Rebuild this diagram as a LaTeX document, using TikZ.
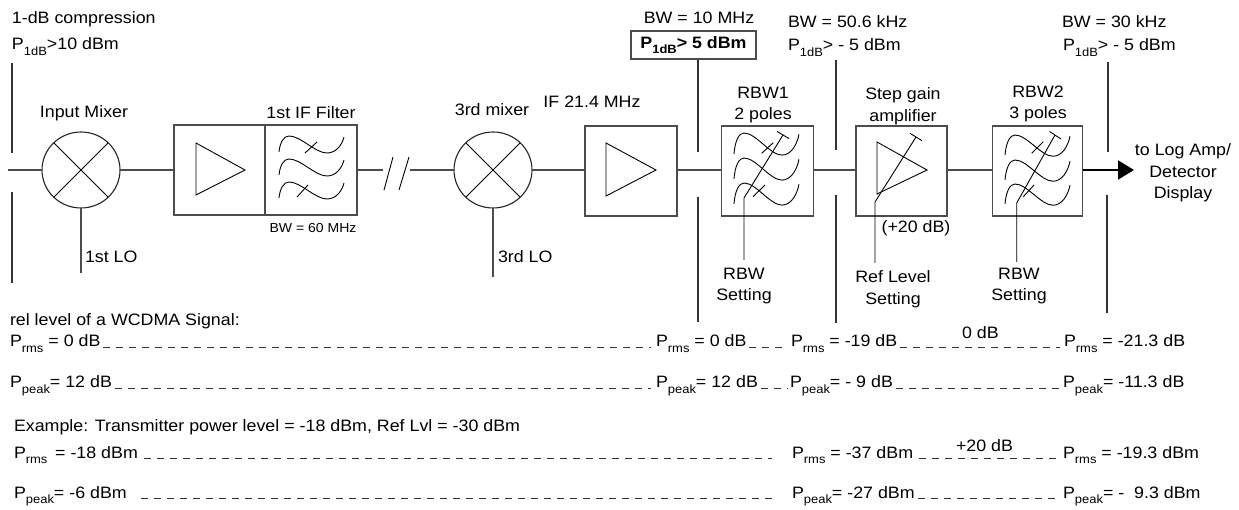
\documentclass[tikz,border=0pt]{standalone}
\usepackage{fontspec}
\setmainfont[FakeStretch=1.08]{Liberation Sans}
\usetikzlibrary{shapes.geometric,arrows.meta}
\newcommand\fs{\fontsize{16.5}{21.5}\selectfont}
\newcommand\fsm{\fontsize{13}{15}\selectfont}
\newcommand\Pix[1]{P\raisebox{-0.35em}{\fontsize{12}{12}\selectfont #1}}
\tikzset{wave/.pic={\draw[line width=0.9pt] (0,16) .. controls (1,6) and (5,0) .. (10,0) .. controls (22,0) and (36,17) .. (48,17) .. controls (57,17) and (63,9) .. (65,1);}}
\begin{document}
\begin{tikzpicture}[x=1pt,y=-1pt,
  every node/.style={inner sep=0pt, outer sep=0pt, font=\fs},
  wire/.style={draw=black!70, line width=1.2pt},
  blk/.style={draw=black!70, line width=1.2pt, rectangle, minimum height=90pt},
  mixer/.style={draw=black!85, line width=1.1pt, ellipse, minimum width=78pt, minimum height=76pt},
  sym/.style={draw=black, line width=0.9pt},
  marker/.style={draw=black!80, line width=1.1pt},
  dashrow/.style={draw=black!80, line width=0.8pt, dash pattern=on 7pt off 6pt},
  lbl/.style={align=center}]
\useasboundingbox (0,0) rectangle (1239,510);

% ---- blocks ----
\node[mixer] (mA) at (81,170) {};
\node[blk, minimum width=91pt] (ampA) at (219.5,170) {};
\node[blk, minimum width=92pt] (filtA) at (311,170) {};
\node[mixer] (mB) at (493,170) {};
\node[blk, minimum width=92pt] (ampB) at (631,171) {};
\node[blk, minimum width=91.5pt] (rbwA) at (767.5,171) {};
\node[blk, minimum width=91pt] (stp) at (901.5,171) {};
\node[blk, minimum width=90pt] (rbwB) at (1037.5,171) {};

% mixer crosses
\draw[sym] (mA.45) -- (mA.225) (mA.135) -- (mA.-45);
\draw[sym] (mB.45) -- (mB.225) (mB.135) -- (mB.-45);

% amplifier triangles
\draw[sym] (196,143) -- (196,195) -- (245,170) -- cycle;
\draw[sym] (606,143) -- (606,196) -- (656,170) -- cycle;
\draw[sym] (877,142) -- (877,194) -- (927,170) -- cycle;

% filter waves
\pic at (279,136) {wave};
\pic at (279,159) {wave};
\pic at (279,182) {wave};
\draw[sym] (305,153) -- (317,142);
\draw[sym] (297,197) -- (308,185);

\pic[yscale=1.3] at (734,133) {wave};
\pic[yscale=1.3] at (734,158) {wave};
\pic[yscale=1.3] at (734,183) {wave};
\draw[sym] (761.7,153.3) -- (773.3,142.7);
\draw[sym] (753,196.7) -- (765,185);

\pic[yscale=1.25] at (1005,135) {wave};
\pic[yscale=1.25] at (1005,160) {wave};
\pic[yscale=1.25] at (1005,184) {wave};
\draw[sym] (1031.7,153.3) -- (1043.3,141.7);
\draw[sym] (1023.3,196.7) -- (1034,185);

% ---- coordinates ----
\coordinate (inL) at (8,170);
\coordinate (brkA) at (383,170);
\coordinate (brkB) at (410,170);
\coordinate (tip) at (1134,170);
\coordinate (loA) at (81,273);
\coordinate (loB) at (493,277);

% ---- signal wires ----
\draw[wire] (inL) -- (mA.west);
\draw[wire] (mA.east) -- (ampA.west);
\draw[wire] (filtA.east) -- (brkA);
\draw[sym] (384,190) -- (393,157);
\draw[sym] (399,190) -- (409,157);
\draw[wire] (brkB) -- (mB.west);
\draw[wire] (mB.east) -- (ampB.west |- mB.east);
\draw[wire] (ampB.east |- mB.east) -- (rbwA.west |- mB.east);
\draw[wire] (rbwA.east |- mB.east) -- (stp.west |- mB.east);
\draw[wire] (stp.east |- mB.east) -- (rbwB.west |- mB.east);
\draw[line width=2pt, -{Triangle[length=16pt,width=19pt]}] (rbwB.east |- mB.east) -- (tip);
\draw[wire] (mA.south) -- (loA);
\draw[wire] (mB.south) -- (loB);

% tuning / setting controls
\coordinate (setA) at (744,260);
\coordinate (setB) at (875,263);
\coordinate (setC) at (1016.7,262);
\draw[sym] (setA) -- (744,198) -- (783,135);
\draw[sym] (777,131.4) -- (789,138.6);
\draw[sym] (setB) -- (875,202) -- (916,137);
\draw[sym] (910,133.3) -- (922,140.7);
\draw[sym] (setC) -- (1016.7,203) -- (1055,135);
\draw[sym] (1049.5,131.5) -- (1061,139);

% ---- reference-plane markers ----
\draw[marker] (12,63) -- (12,153);
\draw[marker] (12,192) -- (12,283);
\draw[marker] (698,60) -- (698,152);
\draw[marker] (698,197) -- (698,322);
\draw[marker] (836,60) -- (836,150);
\draw[marker] (836,195) -- (836,323);
\draw[marker] (1108,62) -- (1108,152);
\draw[marker] (1107,195) -- (1107,313);

% ---- labels ----
\node[anchor=base west] (tA) at (12,24) {1-dB compression};
\node[anchor=base west] (tB) at (12,50) {\Pix{1dB}>10 dBm};
\node (lmA) at (84,113) {Input Mixer};
\node (lfA) at (311,113) {1st IF Filter};
\node[font=\fsm] (lbw60) at (313,228) {BW = 60 MHz};
\node[anchor=west] (llA) at (85,257) {1st LO};
\node (lmB) at (492,110) {3rd mixer};
\node (lif) at (592,102) {IF 21.4 MHz};
\node[anchor=west] (llB) at (498,257) {3rd LO};
\node (lbw10) at (699,18) {BW = 10 MHz};
\node[draw=black!70, line width=1.1pt, minimum width=125pt, minimum height=28pt] (p5) at (693.5,45) {\bfseries\Pix{1dB}> 5 dBm};
\node[lbl] (lrA) at (763,105) {RBW1\\2 poles};
\node[anchor=base west] (lbw50) at (788,28) {BW = 50.6 kHz};
\node[anchor=base west] (lpA) at (788,51) {\Pix{1dB}> - 5 dBm};
\node[lbl] (lst) at (903,106) {Step gain\\amplifier};
\node (l20) at (916,228) {(+20 dB)};
\node[lbl] (lrB) at (1038,104) {RBW2\\3 poles};
\node[anchor=base west] (lbw30) at (1062,28) {BW = 30 kHz};
\node[anchor=base west] (lpB) at (1063,51) {\Pix{1dB}> - 5 dBm};
\node[lbl] (lout) at (1183,173) {to Log Amp/\\Detector\\Display};
\node[lbl] (lsA) at (744,286) {RBW\\Setting};
\node[lbl] (lsB) at (893,289) {Ref Level\\Setting};
\node[lbl] (lsC) at (1019,286) {RBW\\Setting};

% ---- level rows ----
\node[anchor=base west] (rel) at (10,326) {rel level of a WCDMA Signal:};
\node[anchor=base west] (r1a) at (10,347) {\Pix{rms} = 0 dB};
\node[anchor=base west] (r1b) at (656,347) {\Pix{rms} = 0 dB};
\node[anchor=base west] (r1c) at (791,347) {\Pix{rms} = -19 dB};
\node[anchor=base west] (r1d) at (962,339) {0 dB};
\node[anchor=base west] (r1e) at (1064,347) {\Pix{rms} = -21.3 dB};
\draw[dashrow, shorten <=3pt, shorten >=5pt] (r1a.base east) -- (r1b.base west);
\draw[dashrow, shorten <=3pt, shorten >=4pt] (r1b.base east) -- (r1c.base west);
\draw[dashrow, shorten <=3pt, shorten >=4pt] (r1c.base east) -- (r1e.base west);

\node[anchor=base west] (r2a) at (10,388) {\Pix{peak}= 12 dB};
\node[anchor=base west] (r2b) at (656,388) {\Pix{peak}= 12 dB};
\node[anchor=base west] (r2c) at (790,388) {\Pix{peak}= - 9 dB};
\node[anchor=base west] (r2d) at (1063,388) {\Pix{peak}= -11.3 dB};
\draw[dashrow, shorten <=3pt, shorten >=5pt] (r2a.base east) -- (r2b.base west);
\draw[dashrow, shorten <=3pt, shorten >=3pt] (r2b.base east) -- (r2c.base west);
\draw[dashrow, shorten <=3pt, shorten >=3pt] (r2c.base east) -- (r2d.base west);

\node[anchor=base west] (ex) at (14,431) {Example: Transmitter power level = -18 dBm, Ref Lvl = -30 dBm};
\node[anchor=base west] (r3a) at (14,458) {\Pix{rms}\, = -18 dBm};
\node[anchor=base west] (r3b) at (792,458) {\Pix{rms} = -37 dBm};
\node[anchor=base west] (r3d) at (956,451) {+20 dB};
\node[anchor=base west] (r3c) at (1063,458) {\Pix{rms} = -19.3 dBm};
\draw[dashrow, shorten <=6pt, shorten >=20pt] (r3a.base east) -- (r3b.base west);
\draw[dashrow, shorten <=6pt, shorten >=3pt] (r3b.base east) -- (r3c.base west);

\node[anchor=base west] (r4a) at (14,498) {\Pix{peak}= -6 dBm};
\node[anchor=base west] (r4b) at (792,498) {\Pix{peak}= -27 dBm};
\node[anchor=base west] (r4c) at (1063,498) {\Pix{peak}= -\ \ 9.3 dBm};
\draw[dashrow, shorten <=14pt, shorten >=20pt] (r4a.base east) -- (r4b.base west);
\draw[dashrow, shorten <=3pt, shorten >=3pt] (r4b.base east) -- (r4c.base west);
\end{tikzpicture}
\end{document}
